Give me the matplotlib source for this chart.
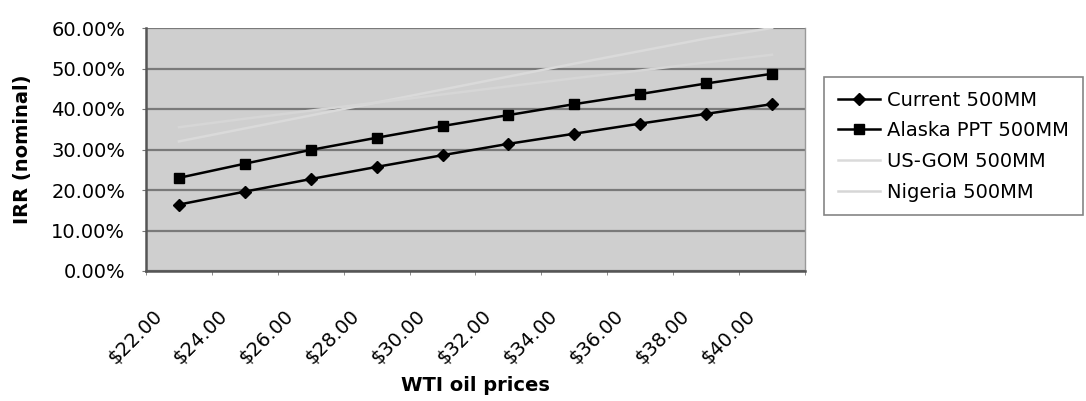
import numpy as np
import matplotlib
matplotlib.use("Agg")
import matplotlib.pyplot as plt
import matplotlib.transforms as mtransforms
from matplotlib.ticker import PercentFormatter, FixedLocator

# WTI oil price categories
prices = ["$22.00", "$24.00", "$26.00", "$28.00", "$30.00",
          "$32.00", "$34.00", "$36.00", "$38.00", "$40.00"]

# IRR (nominal), percent
current = [16.4, 19.6, 22.7, 25.7, 28.6, 31.4, 33.9, 36.4, 38.8, 41.2]
alaska = [23.0, 26.5, 29.9, 32.9, 35.8, 38.5, 41.2, 43.7, 46.3, 48.7]
us_gom = [32.0, 35.2, 38.4, 41.6, 44.8, 48.0, 51.2, 54.3, 57.4, 60.0]
nigeria = [35.5, 37.6, 39.6, 41.6, 43.6, 45.6, 47.6, 49.5, 51.5, 53.4]

plt.rcParams['font.family'] = ['DejaVu Sans']

fig = plt.figure(figsize=(10.86, 4.01), dpi=100)
ax = fig.add_axes([146/1086, 1-271/401, (805-146)/1086, (271-28)/401])
ax.set_facecolor('#cfcfcf')

x = np.arange(len(prices))
ax.plot(x, current, color='black', lw=1.8, marker='D', ms=6.5, label='Current 500MM', zorder=4)
ax.plot(x, alaska, color='black', lw=1.8, marker='s', ms=7, label='Alaska PPT 500MM', zorder=4)
ax.plot(x, us_gom, color='#dadada', lw=1.8, label='US-GOM 500MM', zorder=3)
ax.plot(x, nigeria, color='#d6d6d6', lw=1.8, label='Nigeria 500MM', zorder=3)

ax.set_xlim(-0.5, len(prices)-0.5)
ax.set_ylim(0, 60)
ax.set_yticks(np.arange(0, 61, 10))
ax.yaxis.set_major_formatter(PercentFormatter(decimals=2))
ax.yaxis.grid(True, color='#7a7a7a', lw=1.6)
ax.set_axisbelow(True)

ax.set_xticks(x)
ax.set_xticklabels(prices, rotation=45, ha='right', va='center', rotation_mode='anchor', fontsize=14)
ax.xaxis.set_minor_locator(FixedLocator(np.arange(-0.5, len(prices), 1)))
ax.tick_params(axis='x', which='major', length=0, pad=30)
ax.tick_params(axis='x', which='minor', length=3, color='#777777')
ax.tick_params(axis='y', length=3, color='#777777', pad=12, labelsize=14)
shift = mtransforms.ScaledTranslation(-20/100, 0, fig.dpi_scale_trans)
for lbl in ax.get_xticklabels():
    lbl.set_transform(lbl.get_transform() + shift)

for s in ['left', 'bottom']:
    ax.spines[s].set_color('#555555')
    ax.spines[s].set_linewidth(1.8)
ax.spines['right'].set_color('#999999')
ax.spines['right'].set_linewidth(1)
ax.spines['top'].set_visible(False)

ax.set_xlabel('WTI oil prices', fontsize=14, fontweight='bold', labelpad=6)
ax.set_ylabel('IRR (nominal)', fontsize=14, fontweight='bold', labelpad=14)

leg = fig.legend(loc='upper left', bbox_to_anchor=(824/1086, 1-77/401), fontsize=14,
                 frameon=True, fancybox=False, edgecolor='#666666', handlelength=2.2,
                 labelspacing=0.6, borderpad=0.7, borderaxespad=0, handletextpad=0.35)
leg.get_frame().set_linewidth(1.2)

fig.savefig('out.png', dpi=100)
